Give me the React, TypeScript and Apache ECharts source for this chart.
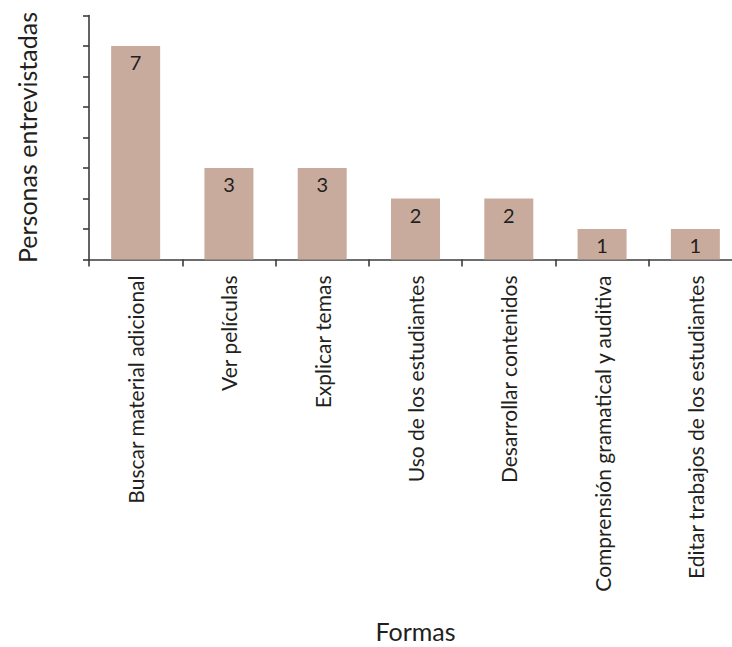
import React, { useEffect, useRef } from "react";
import * as echarts from "echarts";

const categories = [
  "Buscar material adicional",
  "Ver películas",
  "Explicar temas",
  "Uso de los estudiantes",
  "Desarrollar contenidos",
  "Comprensión gramatical y auditiva",
  "Editar trabajos de los estudiantes",
];
const values = [7, 3, 3, 2, 2, 1, 1];
const yMin = 0;
const yMax = 8;
const yInterval = 1;

const FONT = "Lato, 'Noto Sans', sans-serif";
const TEXT = "#231f20";
const AXIS = "#3c3c3c";

export default function App() {
  const ref = useRef<HTMLDivElement>(null);
  useEffect(() => {
    if (!ref.current) return;
    const chart = echarts.init(ref.current, undefined, { renderer: "svg" });
    chart.setOption({
      animation: false,
      backgroundColor: "#ffffff",
      textStyle: { fontFamily: FONT },
      grid: {
        left: 89,
        right: -10,
        top: 15.5,
        bottom: 387.5,
        containLabel: false,
        outerBoundsMode: "none",
      },
      xAxis: {
        type: "category",
        data: categories,
        name: "Formas",
        nameLocation: "middle",
        nameGap: 359,
        nameTextStyle: { fontSize: 25, lineHeight: 25, color: TEXT, fontFamily: FONT },
        axisLine: { lineStyle: { color: AXIS, width: 1.6 } },
        axisTick: { show: true, length: 7, alignWithLabel: false, lineStyle: { color: AXIS, width: 1.6 } },
        axisLabel: {
          rotate: 90,
          interval: 0,
          margin: 16,
          fontSize: 21,
          color: TEXT,
          fontFamily: FONT,
        },
      },
      yAxis: {
        type: "value",
        min: yMin,
        max: yMax,
        interval: yInterval,
        name: "Personas entrevistadas",
        nameLocation: "middle",
        nameRotate: 90,
        nameGap: 50,
        nameTextStyle: { fontSize: 25, color: TEXT, fontFamily: FONT },
        axisLine: { show: true, lineStyle: { color: AXIS, width: 1.6 } },
        axisTick: { show: true, length: 6, lineStyle: { color: AXIS, width: 1.6 } },
        axisLabel: { show: false },
        splitLine: { show: false },
      },
      series: [
        {
          type: "bar",
          data: values,
          barWidth: 49,
          itemStyle: { color: "#c9ab9d" },
          label: {
            show: true,
            position: "insideTop",
            distance: 6,
            fontSize: 20,
            color: TEXT,
            fontFamily: FONT,
          },
        },
      ],
    });
    return () => chart.dispose();
  }, []);
  return (
    <div
      ref={ref}
      style={{ position: "absolute", left: 0, top: 0, width: 732, height: 647 }}
    />
  );
}
